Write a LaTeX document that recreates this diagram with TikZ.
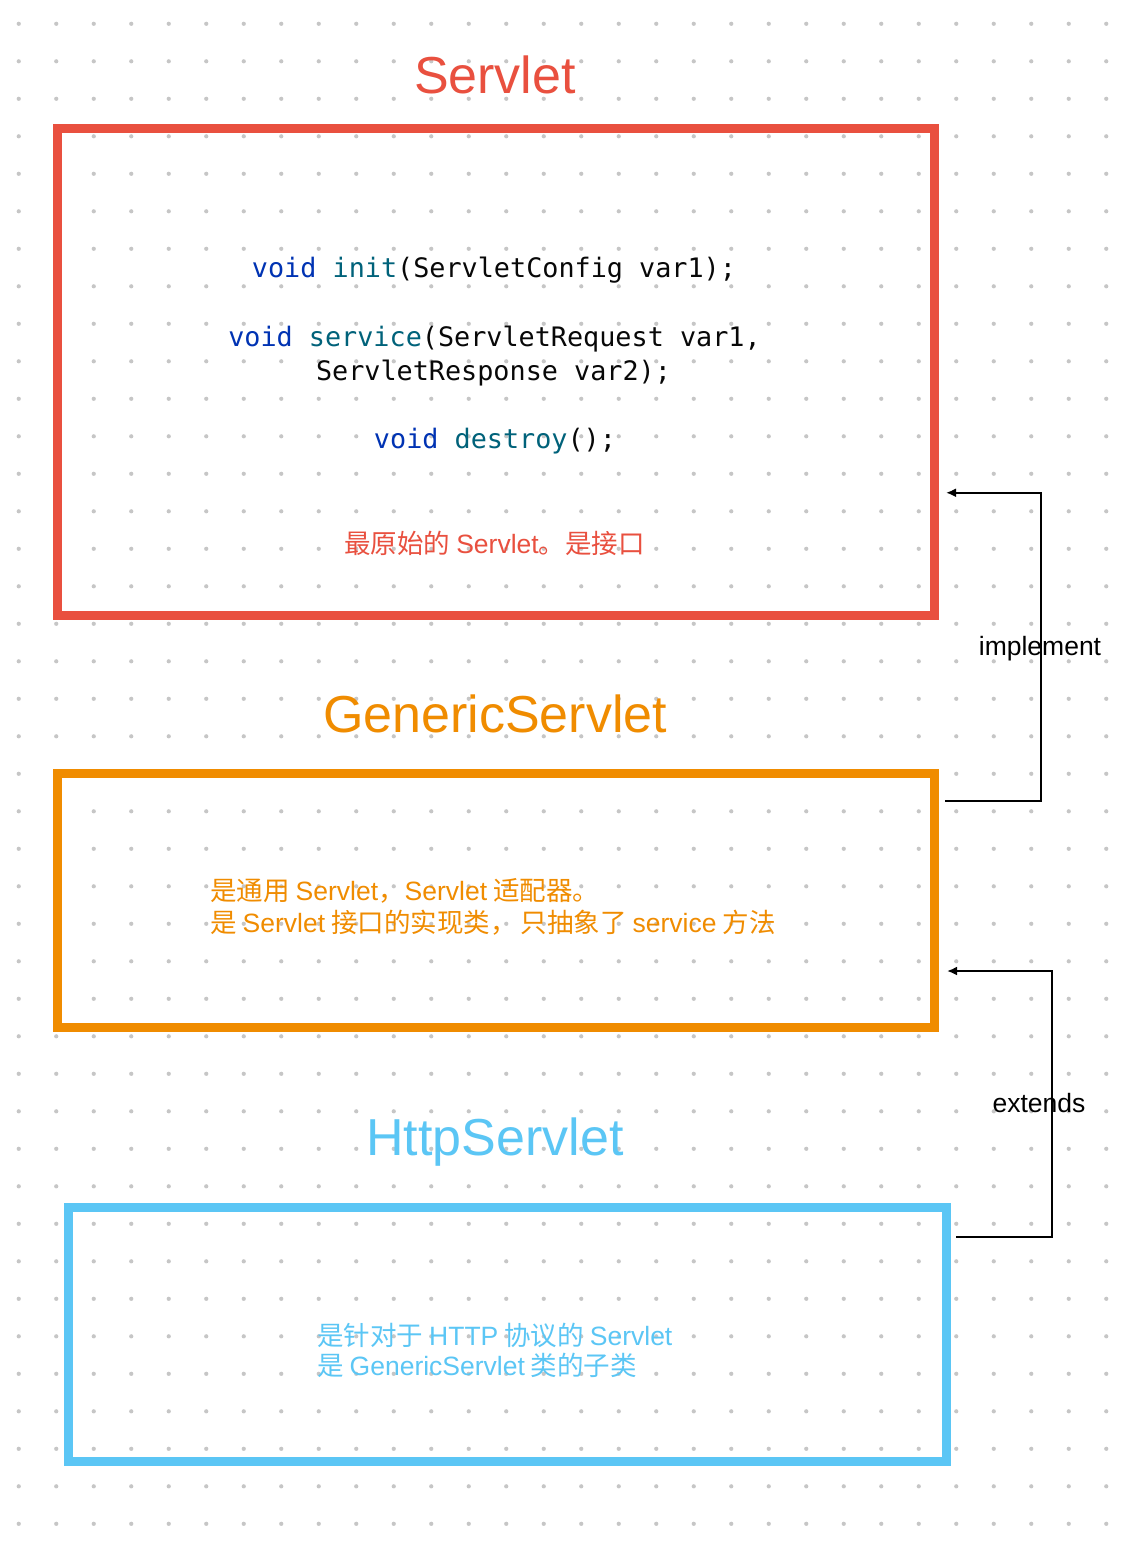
\documentclass[tikz,border=0pt]{standalone}
\usepackage{fontspec}
\setmainfont{Liberation Sans}
\newfontfamily\cjkf{Noto Sans CJK SC}
\newfontfamily\codef{DejaVu Sans Mono}
\usetikzlibrary{arrows.meta,calc}
\definecolor{cRed}{HTML}{E9503F}
\definecolor{cOrange}{HTML}{F08C00}
\definecolor{cBlue}{HTML}{5BC6F5}
\definecolor{cDot}{HTML}{C6C6C6}
\definecolor{cKey}{HTML}{0033B3}
\definecolor{cFun}{HTML}{00627A}
\definecolor{cCode}{HTML}{080808}
\newcommand\zh[1]{{\cjkf #1}}
\newcommand\gp{\hspace{6pt}}
\newcommand\kw[1]{\textcolor{cKey}{#1}}
\newcommand\fn[1]{\textcolor{cFun}{#1}}
\tikzset{
  classbox/.style={draw=#1, line width=9pt, inner sep=0pt, rectangle},
  titletext/.style={text=#1, font=\fontsize{52}{60}\selectfont, anchor=base, inner sep=0pt},
  codetext/.style={text=cCode, font=\codef\fontsize{26.8}{32}\selectfont, anchor=base, inner sep=0pt},
  notetext/.style={text=#1, font=\fontsize{26.5}{32}\selectfont, inner sep=0pt},
  conn/.style={draw=black, line width=2pt, -{Latex[length=10pt,width=9pt]}},
  edgelabel/.style={font=\fontsize{26.5}{32}\selectfont, anchor=base, inner sep=0pt}
}
\begin{document}
\begin{tikzpicture}[x=1pt,y=-1pt]
\useasboundingbox (0,0) rectangle (1142,1550);
\fill[white] (0,0) rectangle (1142,1550);
% dotted background
\foreach \i in {0,...,29}{
  \foreach \j in {0,...,40}{
    \fill[cDot] (18.75+37.5*\i, 23.8+37.5*\j) circle (2.1pt);
  }
}
% boxes
\node[classbox=cRed, minimum width=877pt, minimum height=486.5pt] (servlet) at (496,371.75) {};
\node[classbox=cOrange, minimum width=877pt, minimum height=254pt] (generic) at (496,900.5) {};
\node[classbox=cBlue, minimum width=878pt, minimum height=253.5pt] (http) at (507.5,1334.25) {};
% titles
\node[titletext=cRed] (tServlet) at (495,93) {Servlet};
\node[titletext=cOrange] (tGeneric) at (495,732) {GenericServlet};
\node[titletext=cBlue] (tHttp) at (495,1155) {HttpServlet};
% code
\node[codetext] (c1) at (494,277) {\kw{void} \fn{init}(ServletConfig var1);};
\node[codetext] (c2) at (494.5,346) {\kw{void} \fn{service}(ServletRequest var1,};
\node[codetext] (c3) at (493.5,380) {ServletResponse var2);};
\node[codetext] (c4) at (495,448) {\kw{void} \fn{destroy}();};
% notes
\node[notetext=cRed, anchor=base] (nServlet) at (494.5,553) {\zh{最原始的}\gp Servlet\zh{。是接口}};
\node[notetext=cOrange, anchor=base west] (nGeneric1) at (210,900) {\zh{是通用}\gp Servlet\zh{，}Servlet\gp\zh{适配器。}};
\node[notetext=cOrange, anchor=base west] (nGeneric2) at (210,932) {\zh{是}\gp Servlet\gp\zh{接口的实现类，}\hspace{4pt}\zh{只抽象了}\gp service\gp\zh{方法}};
\node[notetext=cBlue, anchor=base west] (nHttp1) at (317,1345) {\zh{是针对于}\gp HTTP\gp\zh{协议的}\gp Servlet};
\node[notetext=cBlue, anchor=base west] (nHttp2) at (317,1375) {\zh{是}\gp GenericServlet\gp\zh{类的子类}};
% connectors
\coordinate (impFrom) at ([xshift=6pt,yshift=-32pt]generic.north east);
\coordinate (impTo) at ([xshift=7pt,yshift=-121pt]servlet.east);
\coordinate (extFrom) at ([xshift=5pt,yshift=-34pt]http.north east);
\coordinate (extTo) at ([xshift=8pt,yshift=-70.5pt]generic.east);
\draw[conn] (impFrom) -- ++(96,0) |- (impTo);
\draw[conn] (extFrom) -- ++(96,0) |- (extTo);
\node[edgelabel] (lImp) at (1040,655) {implement};
\node[edgelabel] (lExt) at (1039,1112) {extends};
\end{tikzpicture}
\end{document}
